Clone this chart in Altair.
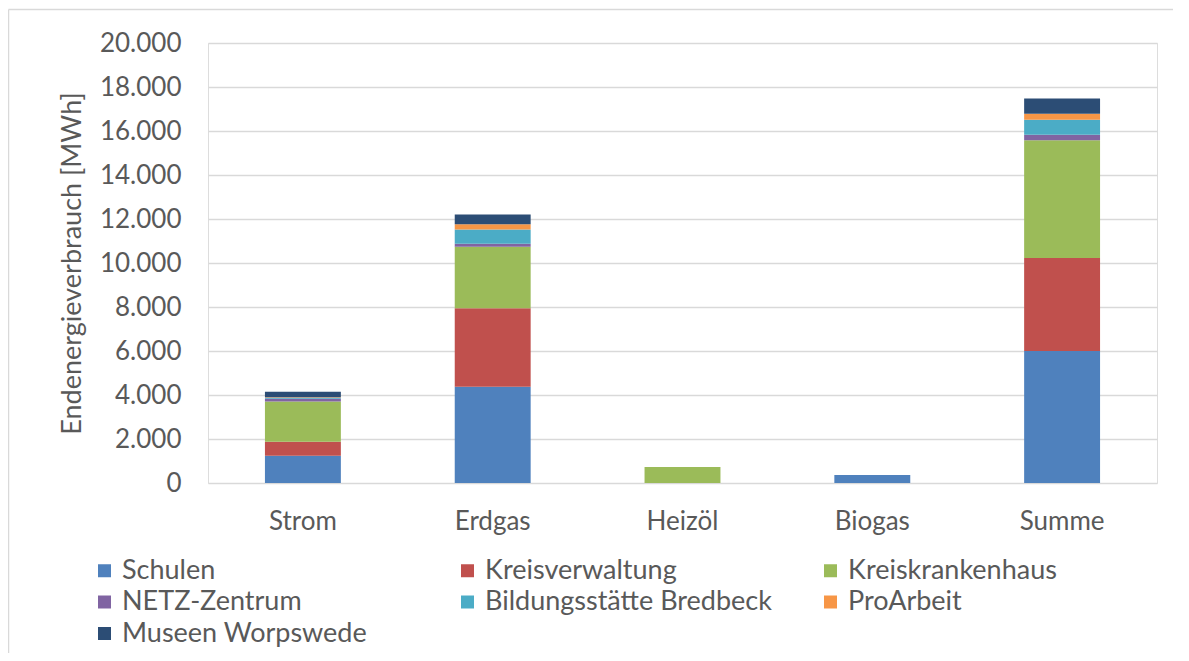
import altair as alt
import pandas as pd

categories = ["Strom", "Erdgas", "Heizöl", "Biogas", "Summe"]
series = ["Schulen", "Kreisverwaltung", "Kreiskrankenhaus", "NETZ-Zentrum",
          "Bildungsstätte Bredbeck", "ProArbeit", "Museen Worpswede"]
colors = ["#4F81BD", "#C0504D", "#9BBB59", "#8064A2", "#4BACC6", "#F79646", "#2C4D75"]

schulen = [1240, 4380, 0, 365, 6000]
kreisverwaltung = [640, 3560, 0, 0, 4230]
kreiskrankenhaus = [1820, 2800, 730, 0, 5350]
netz_zentrum = [130, 140, 0, 0, 250]
bildungsstaette = [40, 640, 0, 0, 680]
proarbeit = [30, 240, 0, 0, 270]
museen = [250, 440, 0, 0, 700]

y_ticks = [0, 2000, 4000, 6000, 8000, 10000, 12000, 14000, 16000, 18000, 20000]

values = [schulen, kreisverwaltung, kreiskrankenhaus, netz_zentrum,
          bildungsstaette, proarbeit, museen]
rows = []
for si, (name, vals) in enumerate(zip(series, values)):
    for cat, v in zip(categories, vals):
        if v > 0:
            rows.append({"Kategorie": cat, "Bereich": name, "Wert": v, "idx": si})
df = pd.DataFrame(rows)

FONT = "Lato"
GREY = "#595959"
GRID = "#d9d9d9"

bars = alt.Chart(df).mark_bar().encode(
    x=alt.X("Kategorie:N", sort=categories,
            scale=alt.Scale(paddingInner=0.6, paddingOuter=0.3),
            axis=alt.Axis(title=None, labelAngle=0, domain=False, ticks=False,
                          labelFontSize=26, labelColor=GREY, labelFont=FONT,
                          labelPadding=25, grid=False)),
    y=alt.Y("Wert:Q", stack="zero", scale=alt.Scale(domain=[0, 20000]),
            axis=alt.Axis(title="Endenergieverbrauch [MWh]", values=y_ticks,
                          labelExpr="replace(format(datum.value, ',d'), ',', '.')",
                          domain=False, ticks=False, gridColor=GRID, gridWidth=1.5,
                          labelFontSize=26, labelColor=GREY, labelFont=FONT,
                          labelPadding=27, titleFontSize=27, titleColor=GREY,
                          titleFont=FONT, titleFontWeight="normal", titlePadding=13)),
    color=alt.Color("Bereich:N", scale=alt.Scale(domain=series, range=colors),
                    legend=alt.Legend(title=None, orient="none", direction="horizontal",
                                      legendX=-117, legendY=514,
                                      columns=3, gridAlign="all", columnPadding=45,
                                      rowPadding=3.5, symbolType="square", symbolSize=169,
                                      symbolStrokeWidth=0, labelFontSize=27,
                                      labelColor=GREY, labelFont=FONT, labelOffset=4,
                                      labelLimit=400)),
    order=alt.Order("idx:Q", sort="ascending"),
)

frame_df = pd.DataFrame({"k": [0]})
frame_left = alt.Chart(frame_df).mark_rule(color=GRID, strokeWidth=1.5).encode(
    x=alt.value(-199.5), y=alt.value(-33.5), y2=alt.value(1000))
frame_top = alt.Chart(frame_df).mark_rule(color=GRID, strokeWidth=1.5).encode(
    x=alt.value(-199.5), x2=alt.value(2000), y=alt.value(-33.5))

chart = alt.layer(frame_left, frame_top, bars).properties(
    width=949, height=440,
    autosize=alt.AutoSizeParams(type="none"),
    padding={"left": 200, "top": 35, "right": 16, "bottom": 170},
).configure_view(strokeWidth=0).configure(background="white")

chart.save("out.html", embed_options={"renderer": "svg", "actions": False})
